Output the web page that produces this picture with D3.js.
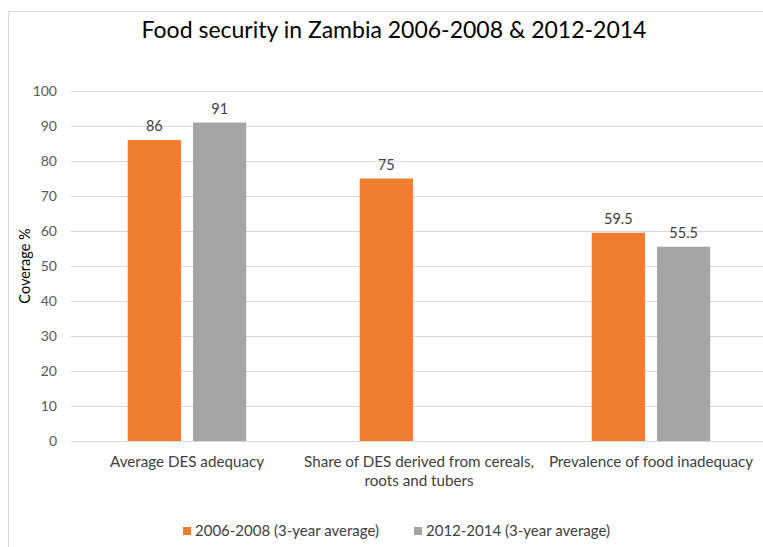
<!DOCTYPE html>
<html>
<head>
<meta charset="utf-8">
<script src="https://cdn.jsdelivr.net/npm/d3@7"></script>
<style>
  html, body { margin: 0; padding: 0; background: #fff; }
  svg { display: block; font-family: Lato, "Liberation Sans", sans-serif; }
</style>
</head>
<body>
<svg id="chart" width="763" height="547"></svg>
<script>
const title = "Food security in Zambia 2006-2008 & 2012-2014";
const categories = [
  ["Average DES adequacy"],
  ["Share of DES derived from cereals,", "roots and tubers"],
  ["Prevalence of food inadequacy"]
];
const seriesNames = ["2006-2008 (3-year average)", "2012-2014 (3-year average)"];
const series2006 = [86, 75, 59.5];
const series2012 = [91, null, 55.5];
const seriesColors = ["#ED7D31", "#A5A5A5"];
const yTicks = [0, 10, 20, 30, 40, 50, 60, 70, 80, 90, 100];
const yTitle = "Coverage %";

const svg = d3.select("#chart");

// chart border (extends off right/bottom like the crop)
svg.append("rect").attr("x", 8.5).attr("y", 11.5).attr("width", 900).attr("height", 700)
  .attr("fill", "#fff").attr("stroke", "#d9d9d9").attr("stroke-width", 1);

const plot = { left: 71, right: 767, top: 91, bottom: 441 };

const y = d3.scaleLinear().domain([0, 100]).range([plot.bottom, plot.top]);
const catIdx = categories.map((d, i) => i);
const x0 = d3.scaleBand().domain(catIdx).range([plot.left, plot.right])
  .paddingInner(0.489).paddingOuter(0.2445);
const x1 = d3.scaleBand().domain([0, 1]).range([0, x0.bandwidth()])
  .paddingInner(0.185).paddingOuter(0);

// gridlines
const yAxis = d3.axisLeft(y).tickValues(yTicks).tickSize(-(plot.right - plot.left)).tickPadding(14);
const gy = svg.append("g").attr("transform", `translate(${plot.left},0)`).call(yAxis);
gy.select(".domain").remove();
gy.selectAll(".tick line").attr("stroke", "#d9d9d9").attr("stroke-width", 1);
gy.selectAll(".tick text").attr("fill", "#595959").style("font-size", "14px")
  .style("font-family", "Lato, 'Liberation Sans', sans-serif");

// bars
const data = [series2006, series2012];
data.forEach((vals, s) => {
  svg.append("g").selectAll("rect")
    .data(vals.map((v, i) => ({ v, i })).filter(d => d.v != null))
    .join("rect")
    .attr("x", d => x0(d.i) + x1(s))
    .attr("width", x1.bandwidth())
    .attr("y", d => y(d.v))
    .attr("height", d => y(0) - y(d.v))
    .attr("fill", seriesColors[s]);
  svg.append("g").selectAll("text")
    .data(vals.map((v, i) => ({ v, i })).filter(d => d.v != null))
    .join("text")
    .attr("x", d => x0(d.i) + x1(s) + x1.bandwidth() / 2)
    .attr("y", d => y(d.v) - 9)
    .attr("text-anchor", "middle")
    .attr("fill", "#404040")
    .style("font-size", "14.5px")
    .text(d => d.v);
});

// x axis line
svg.append("line").attr("x1", plot.left).attr("x2", plot.right)
  .attr("y1", y(0) + 0.5).attr("y2", y(0) + 0.5).attr("stroke", "#d9d9d9");

// category labels
categories.forEach((lines, i) => {
  const t = svg.append("text").attr("text-anchor", "middle").attr("fill", "#404040")
    .style("font-size", "15.2px");
  lines.forEach((ln, j) => {
    t.append("tspan").attr("x", x0(i) + x0.bandwidth() / 2).attr("y", 467 + j * 19).text(ln);
  });
});

// title
svg.append("text").attr("x", 394).attr("y", 38).attr("text-anchor", "middle")
  .attr("fill", "#000").style("font-size", "23px").text(title);

// y title
svg.append("text").attr("transform", "translate(30,266) rotate(-90)")
  .attr("text-anchor", "middle").attr("fill", "#000").style("font-size", "14.5px").text(yTitle);

// legend
const legendX = [183, 414];
seriesNames.forEach((name, s) => {
  svg.append("rect").attr("x", legendX[s]).attr("y", 527).attr("width", 8).attr("height", 8)
    .attr("fill", seriesColors[s]);
  svg.append("text").attr("x", legendX[s] + 12).attr("y", 536).attr("fill", "#404040")
    .style("font-size", "15px").text(name);
});
</script>
</body>
</html>
